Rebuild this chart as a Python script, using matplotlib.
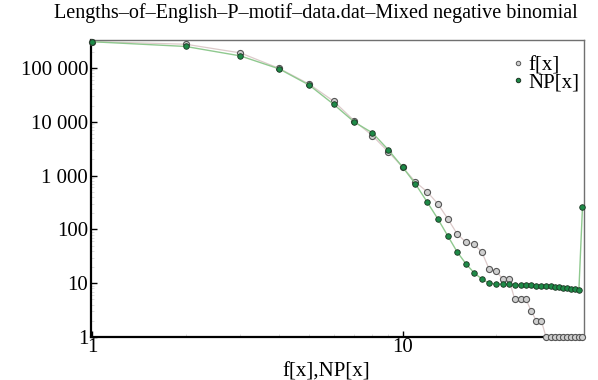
import matplotlib
matplotlib.use('Agg')
import matplotlib.pyplot as plt
from matplotlib.lines import Line2D
import numpy as np

plt.rcParams['font.family'] = ['Liberation Serif', 'DejaVu Serif']

# données
x = np.arange(1, 39)
f = [308000, 275000, 190000, 98000, 50000, 24000, 10300, 5500, 2750, 1440,
     760, 500, 297, 156, 82, 58, 53, 38, 18.5, 17, 12, 12, 5, 5, 5, 3, 2, 2,
     1, 1, 1, 1, 1, 1, 1, 1, 1, 1]
NP = [306000, 250000, 167000, 96000, 48000, 21000, 9800, 6200, 3000, 1440,
      700, 323, 156, 75, 38, 23, 15.6, 12, 10, 9.7, 9.6, 9.5, 9.4, 9.3, 9.2,
      9.1, 9.0, 8.9, 8.8, 8.7, 8.6, 8.5, 8.3, 8.1, 7.9, 7.7, 7.5, 260]
yticks = [1, 10, 100, 1000, 10000, 100000]
ytick_labels = ['1', '10', '100', '1 000', '10 000', '100 000']
xticks = [1, 10]
xtick_labels = ['1', '10']

fig = plt.figure(figsize=(5.98, 3.80), dpi=100)
ax = fig.add_axes([0.152, 0.113, 0.825, 0.782])

grey_fill = '#cfcfcf'
grey_edge = '#555555'
grey_line = '#dccaca'
green_fill = '#1d8a47'
green_edge = '#1c3322'
green_line = '#8fc98f'

ax.plot(x, f, '-', color=grey_line, lw=0.9, zorder=2)
ax.plot(x, f, 'o', ms=4.4, mfc=grey_fill, mec=grey_edge, mew=0.8,
        ls='none', zorder=3, clip_on=False)
ax.plot(x, NP, '-', color=green_line, lw=1.0, zorder=4)
ax.plot(x, NP, 'o', ms=4.0, mfc=green_fill, mec=green_edge, mew=0.6,
        ls='none', zorder=5, clip_on=False)

ax.set_xscale('log')
ax.set_yscale('log')
ax.set_xlim(0.99, 38.5)
ax.set_ylim(1, 331000)

ax.set_yticks(yticks)
ax.set_yticklabels(ytick_labels)
ax.set_xticks(xticks)
ax.set_xticklabels(xtick_labels)
ax.tick_params(which='major', direction='in', length=4, width=1,
               labelsize=15, pad=2)
ax.tick_params(which='minor', direction='in', length=2, width=0.5,
               color='#d0d0d0')
ax.tick_params(axis='x', which='major', pad=1)

for s in ['left', 'bottom']:
    ax.spines[s].set_linewidth(1.6)
    ax.spines[s].set_color('black')
for s in ['top', 'right']:
    ax.spines[s].set_linewidth(1.0)
    ax.spines[s].set_color('#707070')

ax.set_xlabel('f[x],NP[x]', fontsize=15, labelpad=-4)
ax.xaxis.set_label_coords(0.478, -0.085)

fig.text(0.528, 0.965, 'Lengths\u2013of\u2013English\u2013P\u2013motif\u2013data.dat\u2013Mixed negative binomial',
         ha='center', va='center', fontsize=14.5)

handles = [Line2D([], [], marker='o', ls='none', ms=3.2, mfc=grey_fill, mec=grey_edge, mew=0.7),
           Line2D([], [], marker='o', ls='none', ms=3.2, mfc=green_fill, mec=green_edge, mew=0.7)]
ax.legend(handles, ['f[x]', 'NP[x]'], loc='upper right', frameon=False,
          fontsize=15, handlelength=0.4, handletextpad=0.3, labelspacing=-0.1,
          bbox_to_anchor=(1.008, 0.975), borderaxespad=0.0)

fig.savefig('out.png', dpi=100)
